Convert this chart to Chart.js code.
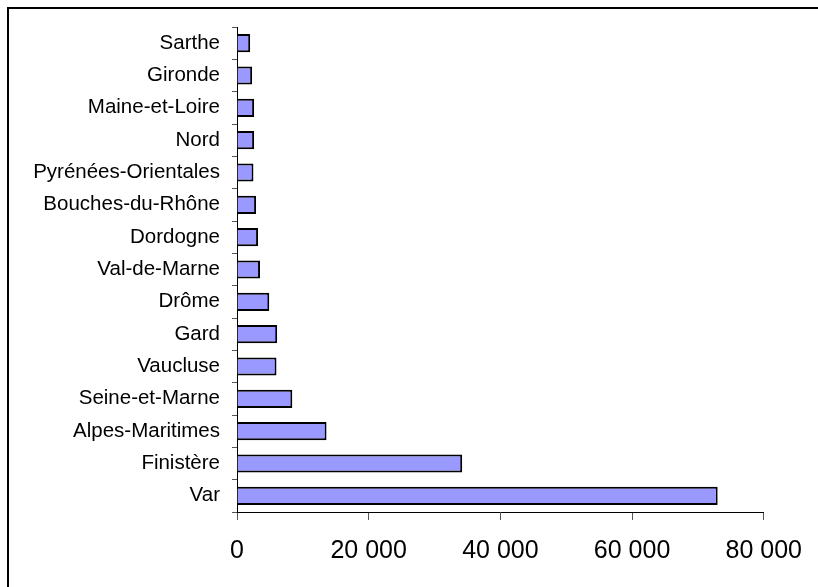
<!DOCTYPE html>
<html>
<head>
<meta charset="utf-8">
<script src="https://cdn.jsdelivr.net/npm/chart.js@4"></script>
<style>
    body { margin: 0; background: #fff; }
</style>
</head>
<body>
<canvas id="myChart" width="818" height="587"></canvas>
<script>
// departements, top to bottom
const departements = ['Sarthe', 'Gironde', 'Maine-et-Loire', 'Nord', 'Pyrénées-Orientales', 'Bouches-du-Rhône',
    'Dordogne', 'Val-de-Marne', 'Drôme', 'Gard', 'Vaucluse', 'Seine-et-Marne', 'Alpes-Maritimes', 'Finistère', 'Var']
const valeurs = [2000, 2300, 2600, 2600, 2500, 2900, 3200, 3500, 4900, 6100, 6000, 8400, 13600, 34200, 73000]
const xTicks = [0, 20000, 40000, 60000, 80000]

// 20000 -> "20 000"
function formatFr(v) {
    return String(v).replace(/\B(?=(\d{3})+(?!\d))/g, ' ')
}

// white background + outer frame (cut off on right/bottom like the original)
const frame = {
    id: 'frame',
    beforeDraw(chart) {
        const ctx = chart.ctx
        ctx.save()
        ctx.fillStyle = '#fff'
        ctx.fillRect(0, 0, chart.width, chart.height)
        ctx.strokeStyle = '#000'
        ctx.lineWidth = 2
        ctx.strokeRect(8, 8, 900, 900)
        ctx.restore()
    }
}

const ctx = document.getElementById('myChart')
new Chart(ctx, {
    type: 'bar',
    data: {
        labels: departements,
        datasets: [{
            data: valeurs,
            backgroundColor: '#9999ff',
            borderColor: '#000',
            borderWidth: 2,
            barPercentage: 0.56,
            categoryPercentage: 1
        }]
    },
    options: {
        indexAxis: 'y',
        responsive: false,
        animation: false,
        layout: { padding: { top: 27, right: 53, left: 0, bottom: 0 } },
        scales: {
            x: {
                min: 0,
                max: 80000,
                afterBuildTicks: (scale) => { scale.ticks = xTicks.map(v => ({ value: v })) },
                afterFit: (scale) => { scale.height = 75 },
                grid: { drawOnChartArea: false, tickLength: 8, color: '#555' },
                border: { color: '#000', width: 1 },
                ticks: {
                    color: '#000',
                    padding: 16,
                    maxRotation: 0,
                    font: { family: 'Liberation Sans, Arial, sans-serif', size: 25 },
                    callback: (v) => formatFr(v)
                }
            },
            y: {
                afterFit: (scale) => { scale.width = 237 },
                grid: { drawOnChartArea: false, tickLength: 5, color: '#555', offset: true },
                border: { color: '#000', width: 1 },
                ticks: {
                    color: '#000',
                    padding: 12,
                    font: { family: 'Liberation Sans, Arial, sans-serif', size: 20.5 }
                }
            }
        },
        plugins: {
            legend: { display: false },
            tooltip: { enabled: false }
        }
    },
    plugins: [frame]
})
</script>
</body>
</html>
